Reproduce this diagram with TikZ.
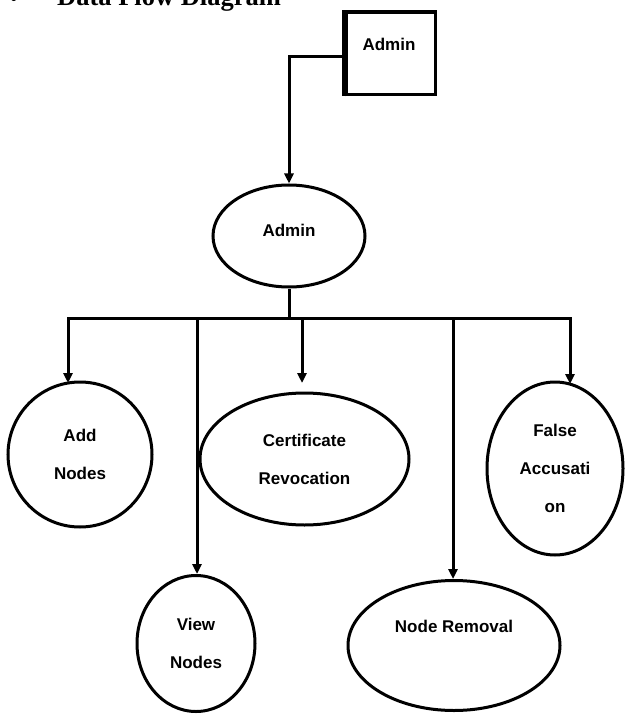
\documentclass[tikz,border=0pt]{standalone}
\usepackage{fontspec}
\setmainfont{Liberation Sans}
\newfontfamily\headfont{Liberation Serif}
\usetikzlibrary{arrows.meta, shapes.geometric, positioning}

\begin{document}
\begin{tikzpicture}[
        x=1pt, y=-1pt,
        every node/.style={font=\bfseries\fontsize{17}{38}\selectfont, align=center, inner sep=0pt},
        proc/.style={ellipse, draw, line width=3pt},
        flow/.style={line width=3pt},
        arr/.style={flow, -{Triangle[length=10pt, width=9pt]}}
    ]
    \path[use as bounding box, clip] (0,0) rectangle (625,714);

    % heading, cut off at the top
    \node[anchor=base, font=\headfont\bfseries\fontsize{20}{24}\selectfont] (dot) at (14,6) {•};
    \node[anchor=base west, font=\headfont\bfseries\fontsize{26.5}{30}\selectfont] (head) at (57,6) {Data Flow Diagram};

    % external entity
    \node[draw, line width=3pt, minimum width=92pt, minimum height=83pt, text depth=19pt] (ent) at (389,53.5) {Admin};
    \draw[flow] ([xshift=4.5pt]ent.south west) -- ([xshift=4.5pt, yshift=-2.5pt]ent.north west) -- ([yshift=-2.5pt]ent.north east);

    % processes
    \node[proc, minimum width=152pt, minimum height=102pt, text depth=12pt] (adm) at (289,236) {Admin};
    \node[proc, minimum width=144pt, minimum height=145pt] (add) at (80,454.5) {Add\\Nodes};
    \node[proc, minimum width=118pt, minimum height=136pt] (view) at (196,643.5) {View\\Nodes};
    \node[proc, minimum width=209pt, minimum height=132pt] (cert) at (304.5,459) {Certificate\\Revocation};
    \node[proc, minimum width=212pt, minimum height=130pt] (rem) at (454,645.5) {Node Removal\\\mbox{}};
    \node[proc, minimum width=136pt, minimum height=173pt] (fals) at (555,468.5) {False\\Accusati\\on};

    % flows
    \coordinate (j) at (289,318);
    \coordinate (b2) at (197,318);
    \coordinate (b3) at (302,318);
    \coordinate (b4) at (453,318);
    \coordinate (t1) at (68,383);
    \coordinate (t3) at (302,383);
    \coordinate (t5) at (570,384);
    \draw[arr] ([yshift=-3.5pt]ent.west) -| (adm.north);
    \draw[flow] (adm) -- (j);
    \draw[arr] (j) -| (t1);
    \draw[arr] (j) -| (t5);
    \draw[arr] (b2) -- (b2 |- view.north);
    \draw[arr] (b3) -- (t3);
    \draw[arr] (b4) -- (b4 |- rem.north);

\end{tikzpicture}
\end{document}
